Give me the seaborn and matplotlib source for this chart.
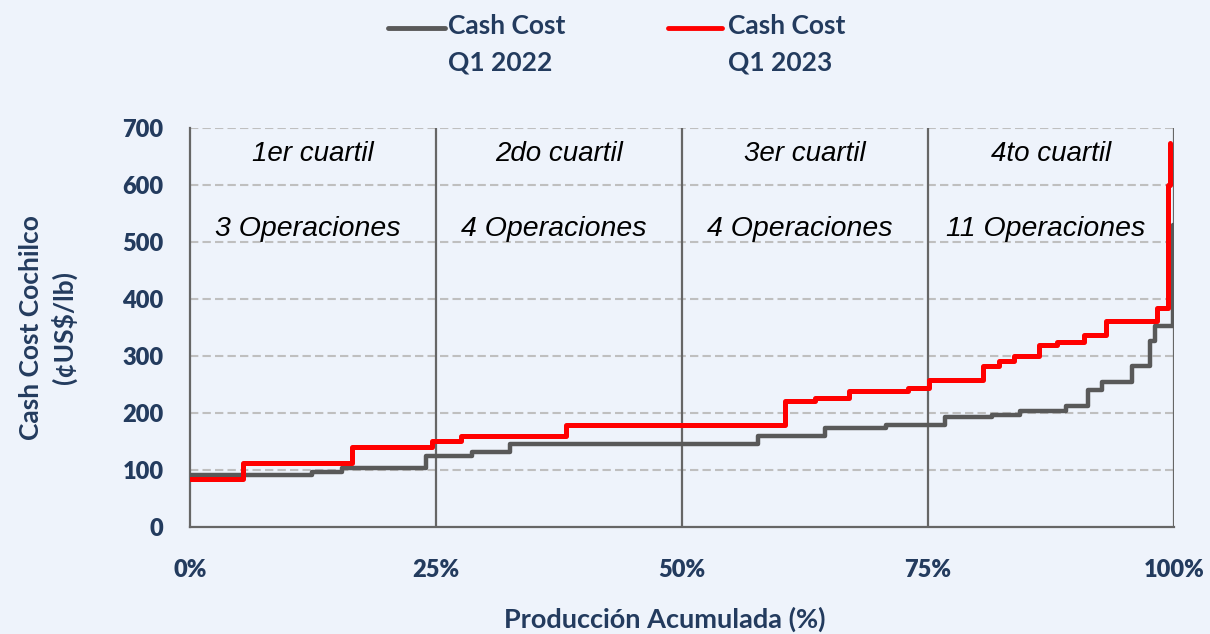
import pandas as pd
import matplotlib
matplotlib.use("Agg")
import matplotlib.pyplot as plt
import seaborn as sns
from matplotlib.lines import Line2D

# ------------------------------------------------------------
# Data
# ------------------------------------------------------------
prod_2022 = [0, 12.4, 15.5, 24.0, 28.7, 32.5, 57.7, 64.6, 70.8, 76.8, 81.5, 84.4,
             89.1, 91.3, 92.7, 95.8, 97.6, 98.1, 99.9]
cost_2022 = [91, 96, 104, 124, 132, 145, 159, 173, 179, 193, 197, 203,
             212, 240, 254, 282, 327, 353, 530]

prod_2023 = [0, 5.4, 16.5, 24.6, 27.6, 38.2, 60.5, 63.5, 67.0, 73.0, 75.1, 80.6,
             82.2, 83.8, 86.3, 88.1, 90.9, 93.1, 98.3, 99.4, 99.6]
cost_2023 = [84, 112, 141, 150, 159, 178, 221, 226, 238, 244, 258, 282,
             291, 300, 319, 324, 336, 361, 385, 600, 673]

quartile_pos = [12.5, 37.5, 62.5, 87.5]
quartile_names = ["1er cuartil", "2do cuartil", "3er cuartil", "4to cuartil"]
quartile_ops = ["3 Operaciones", "4 Operaciones", "4 Operaciones", "11 Operaciones"]

x_ticks = [0, 25, 50, 75, 100]
x_tick_labels = ["0%", "25%", "50%", "75%", "100%"]
y_ticks = [0, 100, 200, 300, 400, 500, 600, 700]

series_labels = [("Cash Cost", "Q1 2022"), ("Cash Cost", "Q1 2023")]

# ------------------------------------------------------------
# Style
# ------------------------------------------------------------
BG = "#EEF3FB"
NAVY = "#233B5E"
GRAY = "#595959"
RED = "#FF0000"

sns.set_theme(style="white")
plt.rcParams["font.family"] = ["Lato", "DejaVu Sans"]
plt.rcParams["axes.facecolor"] = BG
plt.rcParams["figure.facecolor"] = BG

df22 = pd.DataFrame({"prod": prod_2022, "cost": cost_2022})
df23 = pd.DataFrame({"prod": prod_2023, "cost": cost_2023})

fig = plt.figure(figsize=(12.1, 6.34), dpi=100)
ax = fig.add_axes([0.157, 0.169, 0.813, 0.629])

# grid + quartile separators
for y in y_ticks[1:]:
    ax.axhline(y, color="#BFBFBF", lw=1.5, dashes=(4, 2), zorder=1)
for x in x_ticks[1:]:
    ax.axvline(x, color="#666666", lw=1.6, zorder=2)

sns.lineplot(data=df22, x="prod", y="cost", ax=ax, color=GRAY, lw=3.2,
             drawstyle="steps-post", sort=False, estimator=None, legend=False, zorder=3)
sns.lineplot(data=df23, x="prod", y="cost", ax=ax, color=RED, lw=3.6,
             drawstyle="steps-post", sort=False, estimator=None, legend=False, zorder=4)

# quartile annotations
for xp, name, ops in zip(quartile_pos, quartile_names, quartile_ops):
    ax.text(xp, 655, name, ha="center", va="center", fontsize=20, style="italic",
            family="Liberation Sans", color="black", zorder=5)
    ax.text(xp - 0.5, 522, ops, ha="center", va="center", fontsize=20.5, style="italic",
            family="Liberation Sans", color="black", zorder=5)

ax.set_xlim(0, 100)
ax.set_ylim(0, 700)
ax.set_xticks(x_ticks)
ax.set_xticklabels(x_tick_labels)
ax.set_yticks(y_ticks)
ax.tick_params(axis="x", length=0, pad=23, labelsize=17, labelcolor=NAVY)
ax.tick_params(axis="y", length=0, pad=19, labelsize=17, labelcolor=NAVY)
for lab in ax.get_xticklabels() + ax.get_yticklabels():
    lab.set_fontweight("heavy")

for side in ["top", "right"]:
    ax.spines[side].set_visible(False)
for side in ["left", "bottom"]:
    ax.spines[side].set_color("#666666")
    ax.spines[side].set_linewidth(1.6)

ax.set_xlabel("Producción Acumulada (%)", fontsize=19.5, fontweight="bold",
              color=NAVY, va="center")
ax.xaxis.set_label_coords(0.483, -0.233)
ax.set_ylabel("Cash Cost Cochilco\n(¢US$/lb)", fontsize=19, fontweight="bold",
              color=NAVY, va="center", linespacing=1.35)
ax.yaxis.set_label_coords(-0.144, 0.5)

# legend drawn by hand (two-line labels with the line beside the first row)
for (x0, x1, xt), color, (l1, l2) in zip([(0.321, 0.368, 0.370), (0.552, 0.597, 0.602)],
                                         [GRAY, RED], series_labels):
    fig.add_artist(Line2D([x0, x1], [0.956, 0.956], color=color, lw=3.5,
                          solid_capstyle="round", transform=fig.transFigure))
    fig.text(xt, 0.959, l1, ha="left", va="center", fontsize=19, fontweight="bold", color=NAVY)
    fig.text(xt, 0.902, l2, ha="left", va="center", fontsize=19, fontweight="bold", color=NAVY)

fig.savefig("out.png", dpi=100, facecolor=BG)
